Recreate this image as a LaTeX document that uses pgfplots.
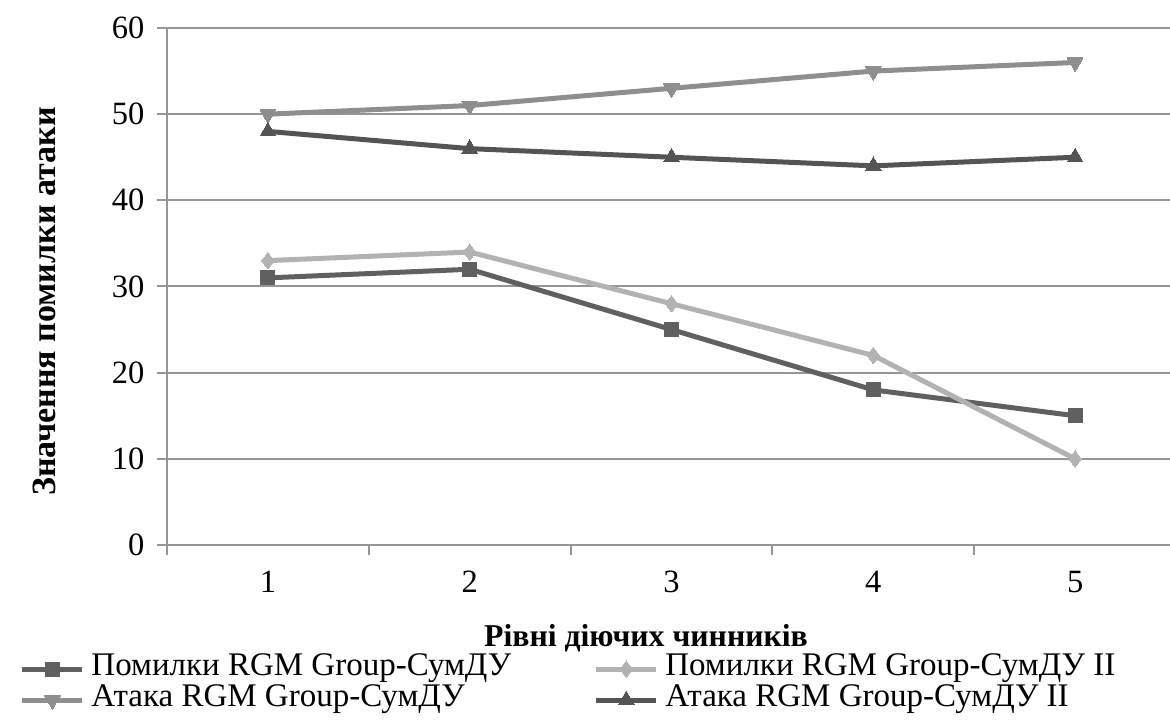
\documentclass[border=0pt]{standalone}
\usepackage{pgfplots}
\pgfplotsset{compat=1.18}
\usepackage{fontspec}
\setmainfont{Liberation Serif}

\definecolor{errA}{HTML}{606060}
\definecolor{errB}{HTML}{B2B2B2}
\definecolor{atkA}{HTML}{8E8E8E}
\definecolor{atkB}{HTML}{545454}
\definecolor{gridc}{HTML}{959595}

\begin{document}
\begin{tikzpicture}
\path[use as bounding box] (-66.8pt,-70.8pt) rectangle (401.2pt,218pt);
\begin{axis}[
  at={(0,0)}, anchor=south west,
  scale only axis,
  width=401.2pt, height=206.8pt,
  xmin=0.5, xmax=5.47,
  ymin=0, ymax=60,
  ytick={0,10,...,60},
  xtick={1,2,3,4,5},
  minor xtick={0.5,1.5,2.5,3.5,4.5},
  major x tick style={draw=none},
  tick align=outside,
  major tick length=4pt,
  minor tick length=4pt,
  tick style={gridc, line width=0.8pt},
  axis x line*=bottom,
  axis y line*=left,
  axis line style={gridc, line width=0.8pt, -},
  ymajorgrids,
  grid style={gridc, line width=0.8pt},
  clip=false,
  tick label style={font=\fontsize{13}{15}\selectfont},
  /pgf/number format/assume math mode=true,
  xticklabel style={yshift=-3pt},
  yticklabel style={xshift=-1.5pt},
  xlabel={\textbf{Рівні діючих чинників}},
  ylabel={\textbf{Значення помилки атаки}},
  xlabel style={at={(axis description cs:0.4776,0)}, anchor=base, yshift=-40.4pt,
    inner sep=0pt, font=\fontsize{12.7}{14}\selectfont},
  ylabel style={at={(axis description cs:0,0.471)}, anchor=south, yshift=44.4pt,
    inner sep=0pt, font=\fontsize{13.6}{15}\selectfont},
  legend columns=2,
  legend cell align=left,
  legend style={
    at={(axis description cs:-0.1466,-0.2100)}, anchor=north west,
    draw=none, fill=none, inner sep=0pt, outer sep=0pt,
    font=\fontsize{13.2}{15}\selectfont,
    nodes={inner xsep=0pt, inner ysep=0pt, text height=8.8pt, text depth=3.6pt},
    row sep=0pt,
    /tikz/every odd column/.append style={column sep=2.6pt},
    /tikz/every even column/.append style={column sep=33pt},
  },
  legend image code/.code={
    \draw[mark repeat=2, mark phase=2]
      plot coordinates {(0pt,0pt) (12pt,0pt) (24pt,0pt)};
  },
  every axis plot/.append style={line width=2pt, line join=round},
]
\addplot[errA, mark=square*, mark size=2.8pt, mark options={solid, line width=0pt}]
  coordinates {(1,31) (2,32) (3,25) (4,18) (5,15)};
\addlegendentry{Помилки RGM Group-СумДУ}
\addplot[errB, mark=diamond*, mark size=3.3pt, mark options={solid, line width=0pt}]
  coordinates {(1,33) (2,34) (3,28) (4,22) (5,10)};
\addlegendentry{Помилки RGM Group-СумДУ II}
\addplot[atkA, mark=triangle*, mark size=3.6pt, mark options={solid, rotate=180, line width=0pt}]
  coordinates {(1,50) (2,51) (3,53) (4,55) (5,56)};
\addlegendentry{Атака RGM Group-СумДУ}
\addplot[atkB, mark=triangle*, mark size=3.6pt, mark options={solid, line width=0pt}]
  coordinates {(1,48) (2,46) (3,45) (4,44) (5,45)};
\addlegendentry{Атака RGM Group-СумДУ II}
\end{axis}
\end{tikzpicture}
\end{document}
